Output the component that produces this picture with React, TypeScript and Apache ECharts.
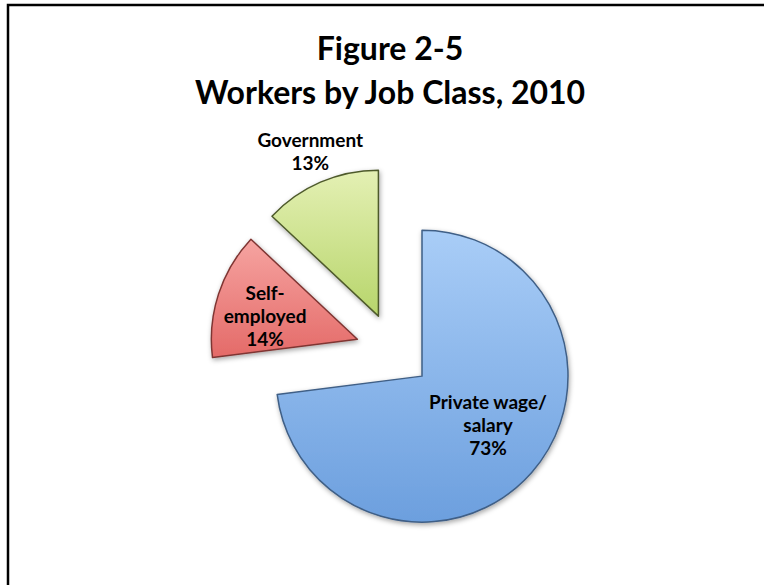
import React, { useEffect, useRef } from "react";
import * as echarts from "echarts";

const titleLines = ["Figure 2-5", "Workers by Job Class, 2010"];
const categories = ["Private wage/\nsalary", "Self-\nemployed", "Government"];
const shares = [73, 14, 13];
const topColors = ["#a9cdf7", "#f6a4a1", "#e4f0b4"];
const bottomColors = ["#6c9fde", "#e46a68", "#b7d56b"];
const edgeColors = ["#3f5f86", "#7f3533", "#4e5a2c"];

export default function App() {
  const ref = useRef<HTMLDivElement>(null);
  useEffect(() => {
    if (!ref.current) return;
    const chart = echarts.init(ref.current, undefined, { renderer: "svg" });
    const labelShift = [
      { dx: 9, dy: -2 },
      { dx: -20, dy: 0 },
      { dx: -38, dy: -95 },
    ];
    chart.setOption({
      animation: false,
      backgroundColor: "#ffffff",
      title: {
        text: titleLines.join("\n"),
        left: 390,
        textAlign: "center",
        top: 25,
        padding: 0,
        textStyle: {
          fontFamily: "Lato",
          fontWeight: "bold",
          fontSize: 32,
          lineHeight: 44,
          color: "#000000",
        },
      },
      graphic: [
        {
          type: "rect",
          shape: { x: 8, y: 5, width: 900, height: 800 },
          style: { fill: "none", stroke: "#000000", lineWidth: 2.5 },
          silent: true,
        },
      ],
      series: [
        {
          type: "pie",
          center: [393.5, 351],
          radius: [0, 146],
          startAngle: 90,
          clockwise: true,
          selectedMode: "multiple",
          selectedOffset: 38,
          select: { itemStyle: {} },
          emphasis: { disabled: true },
          label: {
            show: true,
            position: "inside",
            formatter: (p: any) => `${p.name}\n${p.value}%`,
            fontFamily: "Lato",
            fontWeight: "bold",
            fontSize: 19,
            lineHeight: 23,
            color: "#000000",
            align: "center",
          },
          labelLayout: (p: any) => labelShift[p.dataIndex],
          labelLine: { show: false },
          data: categories.map((name, i) => ({
            name,
            value: shares[i],
            selected: true,
            itemStyle: {
              color: new echarts.graphic.LinearGradient(0, 0, 0, 1, [
                { offset: 0, color: topColors[i] },
                { offset: 1, color: bottomColors[i] },
              ]),
              borderColor: edgeColors[i],
              borderWidth: 1.5,
              shadowBlur: 5,
              shadowColor: "rgba(0,0,0,0.35)",
              shadowOffsetX: 1,
              shadowOffsetY: 2,
            },
          })),
        },
      ],
    });
    return () => chart.dispose();
  }, []);
  return (
    <div
      ref={ref}
      style={{ position: "fixed", left: 0, top: 0, width: 764, height: 585 }}
    />
  );
}
